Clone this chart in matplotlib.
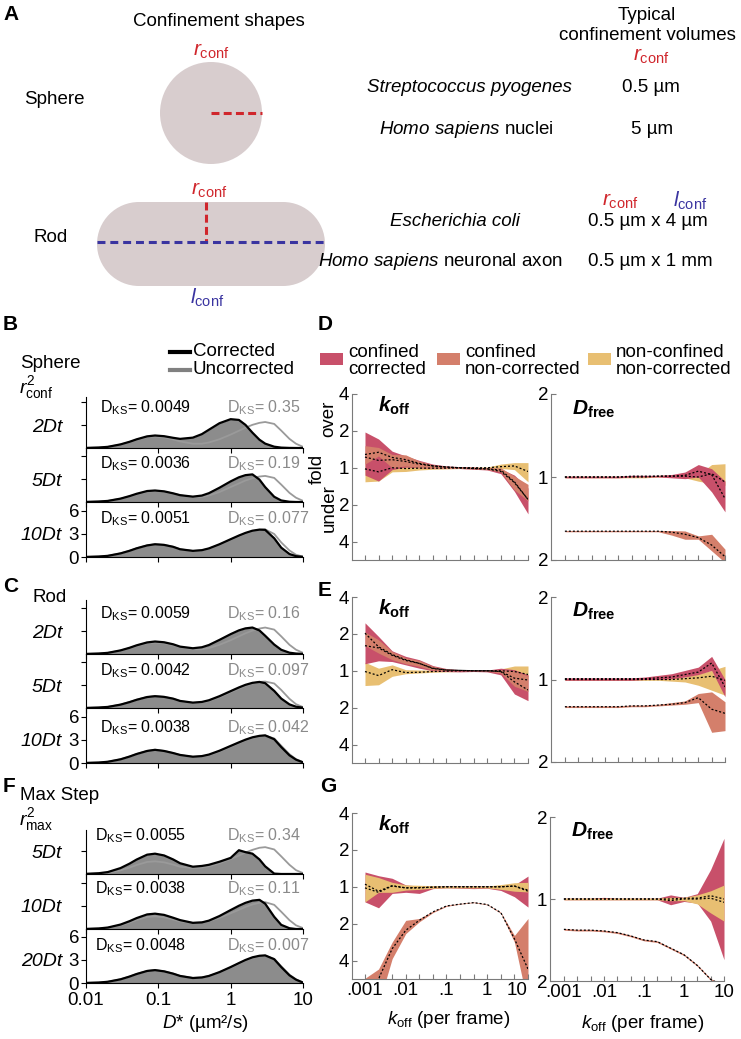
import matplotlib.pyplot as plt
from matplotlib.patches import Circle, Rectangle
from matplotlib.ticker import NullLocator

plt.rcParams["font.family"] = ["Liberation Sans", "DejaVu Sans"]
plt.rcParams["mathtext.fontset"] = "custom"
plt.rcParams["mathtext.rm"] = "Liberation Sans"
plt.rcParams["mathtext.it"] = "Liberation Sans:italic"
plt.rcParams["mathtext.bf"] = "Liberation Sans:bold:italic"
plt.rcParams["mathtext.sf"] = "Liberation Sans:bold"

# -------------------------
# D* distributions (B, C, F)
# -------------------------
d_star = [0.01, 0.015, 0.02, 0.03, 0.04, 0.05, 0.07, 0.09, 0.12, 0.16, 0.2, 0.3, 0.4,
          0.5, 0.7, 1, 1.3, 1.6, 2, 2.5, 3, 4, 5, 6.5, 8, 10]

sph_2dt_cor = [.01, .06, .15, .47, .81, 1.13, 1.52, 1.63, 1.54, 1.33, 1.19, 1.35, 1.81,
               2.38, 3.23, 3.76, 3.66, 3.02, 2.0, 1.08, .57, .17, .05, .01, 0, 0]
sph_2dt_unc = [.01, .06, .14, .44, .77, 1.07, 1.43, 1.5, 1.39, 1.12, .86, .56, .56,
               .72, 1.14, 1.75, 2.25, 2.65, 3.02, 3.28, 3.39, 3.14, 2.27, 1.19, .56, .15]
sph_5dt_cor = [.01, .06, .14, .44, .77, 1.07, 1.43, 1.5, 1.39, 1.13, .89, .70, .84,
               1.15, 1.86, 2.69, 3.22, 3.5, 3.6, 2.92, 1.94, .68, .2, .03, 0, 0]
sph_5dt_unc = [.01, .06, .14, .42, .73, 1.0, 1.35, 1.42, 1.33, 1.1, .88, .62, .66,
               .85, 1.3, 1.95, 2.42, 2.8, 3.1, 3.32, 3.4, 3.14, 2.27, 1.19, .56, .15]
sph_10dt_cor = [.01, .06, .15, .47, .81, 1.13, 1.51, 1.66, 1.58, 1.33, 1.01, .80, .89,
                1.12, 1.66, 2.32, 2.8, 3.14, 3.43, 3.57, 3.54, 2.44, 1.22, .39, .11, .02]
sph_10dt_unc = [.01, .06, .15, .47, .81, 1.13, 1.51, 1.66, 1.58, 1.33, 1.01, .78, .86,
                1.08, 1.6, 2.25, 2.72, 3.06, 3.35, 3.55, 3.6, 3.0, 1.9, .85, .3, .05]

rod_2dt_cor = [.01, .06, .15, .47, .81, 1.13, 1.51, 1.63, 1.53, 1.27, .96, .75, .88,
               1.17, 1.84, 2.59, 3.08, 3.34, 3.45, 3.07, 2.38, 1.23, .55, .17, .06, .01]
rod_2dt_unc = [.01, .06, .14, .44, .77, 1.05, 1.4, 1.5, 1.4, 1.15, .9, .62, .62,
               .78, 1.2, 1.8, 2.3, 2.7, 3.05, 3.32, 3.45, 3.18, 2.3, 1.2, .56, .15]
rod_5dt_cor = [.01, .06, .14, .44, .77, 1.07, 1.43, 1.54, 1.45, 1.22, .92, .70, .79,
               1.01, 1.54, 2.2, 2.68, 3.02, 3.28, 3.4, 3.24, 2.23, 1.23, .47, .17, .04]
rod_5dt_unc = [.01, .06, .14, .44, .77, 1.07, 1.43, 1.54, 1.45, 1.2, .9, .66, .72,
               .92, 1.42, 2.05, 2.52, 2.88, 3.2, 3.4, 3.45, 3.2, 2.35, 1.2, .5, .12]
rod_10dt_cor = [.01, .06, .16, .48, .84, 1.17, 1.57, 1.72, 1.57, 1.30, 1.05, .82, .90,
                1.10, 1.60, 2.23, 2.69, 3.04, 3.35, 3.54, 3.6, 3.1, 2.08, 1.0, .44, .08]
rod_10dt_unc = [.01, .06, .16, .48, .84, 1.17, 1.57, 1.72, 1.57, 1.3, 1.03, .8, .85,
                1.02, 1.5, 2.12, 2.6, 2.96, 3.28, 3.5, 3.58, 3.2, 2.25, 1.15, .5, .12]

max_5dt_cor = [.02, .1, .25, .77, 1.35, 1.88, 2.52, 2.65, 2.42, 1.9, 1.4, .95, 1.05,
               1.2, 1.6, 2.1, 3.1, 2.85, 2.65, 1.9, 1.0, .05, 0, 0, 0, 0]
max_5dt_unc = [.01, .06, .16, .48, .84, 1.17, 1.57, 1.65, 1.52, 1.22, .95, .78, .85,
               1.0, 1.4, 1.95, 2.4, 2.8, 3.15, 3.42, 3.5, 3.2, 2.3, 1.2, .5, .12]
max_10dt_cor = [.01, .07, .19, .58, 1.02, 1.42, 1.9, 2.0, 1.84, 1.47, 1.16, .80, .86,
                1.09, 1.69, 2.47, 3.03, 3.41, 3.7, 3.8, 3.3, 1.59, .54, .1, 0, 0]
max_10dt_unc = [.01, .06, .16, .48, .84, 1.17, 1.57, 1.65, 1.52, 1.24, .98, .8, .86,
                1.02, 1.45, 2.05, 2.5, 2.88, 3.2, 3.42, 3.5, 3.15, 2.25, 1.15, .48, .12]
max_20dt_cor = [.01, .06, .16, .48, .84, 1.17, 1.57, 1.68, 1.52, 1.22, .92, .65, .72,
                .92, 1.42, 2.08, 2.6, 3.0, 3.35, 3.55, 3.6, 3.1, 2.08, 1.0, .44, .05]
max_20dt_unc = [.01, .06, .16, .48, .84, 1.17, 1.57, 1.68, 1.52, 1.22, .92, .66, .72,
                .9, 1.38, 2.02, 2.52, 2.92, 3.28, 3.5, 3.55, 3.15, 2.18, 1.08, .48, .08]

ks_sphere_cor = ["0.0049", "0.0036", "0.0051"]
ks_sphere_unc = ["0.35", "0.19", "0.077"]
ks_rod_cor = ["0.0059", "0.0042", "0.0038"]
ks_rod_unc = ["0.16", "0.097", "0.042"]
ks_max_cor = ["0.0055", "0.0038", "0.0048"]
ks_max_unc = ["0.34", "0.11", "0.007"]

rows_sphere = ["2Dt", "5Dt", "10Dt"]
rows_rod = ["2Dt", "5Dt", "10Dt"]
rows_max = ["5Dt", "10Dt", "20Dt"]

# -------------------------
# fold error data (D, E, G), log2 of fold, over > 0
# -------------------------
koff = [0.001, 0.00215, 0.00464, 0.01, 0.0215, 0.0464, 0.1, 0.215, 0.464, 1, 2.15, 4.64, 10]
koff_labels = [".001", "", "", ".01", "", "", ".1", "", "", "1", "", "", "10"]

d_koff_cc_hi = [.97, .78, .45, .32, .2, .1, .05, .03, .02, .0, -.03, -.2, -.55]
d_koff_cc_lo = [-.2, -.36, -.05, .02, .0, -.02, -.02, -.02, -.04, -.06, -.16, -.64, -1.25]
d_koff_cc_med = [.29, .2, .22, .17, .1, .05, .02, .0, -.02, -.03, -.1, -.4, -.86]
d_koff_cn_hi = [.6, .55, .36, .35, .18, .08, .04, .02, .01, .0, .0, -.23, -.45]
d_koff_cn_lo = [.1, .32, .0, .05, .0, -.02, -.02, -.02, -.03, -.05, -.11, -.6, -.9]
d_koff_cn_med = [.36, .42, .28, .22, .12, .05, .02, .0, -.02, -.03, -.06, -.38, -.86]
d_koff_nc_hi = [.25, .2, .27, .12, .06, .04, .03, .02, .02, .02, .1, .14, .14]
d_koff_nc_lo = [-.38, -.36, -.11, -.1, -.06, -.04, -.03, -.02, -.02, -.02, -.02, -.05, -.38]
d_koff_nc_med = [-.03, -.11, .0, -.02, -.01, -.01, -.01, .0, .0, .0, .03, .05, -.1]

d_dfree_cc_hi = [.01, .01, .01, .01, .01, .02, .02, .02, .03, .06, .15, .1, -.05]
d_dfree_cc_lo = [-.01, -.01, -.01, -.01, -.01, 0, 0, 0, -.01, -.02, .0, -.18, -.42]
d_dfree_cc_med = [0, 0, 0, 0, 0, .01, .01, .01, .01, .02, .07, .03, -.26]
d_dfree_cn_hi = [-.645, -.645, -.645, -.645, -.645, -.645, -.645, -.645, -.645, -.65, -.71, -.69, -.87]
d_dfree_cn_lo = [-.66, -.66, -.66, -.66, -.66, -.66, -.66, -.66, -.70, -.75, -.75, -.89, -1.03]
d_dfree_cn_med = [-.653, -.653, -.653, -.653, -.653, -.653, -.653, -.653, -.665, -.69, -.73, -.82, -.96]
d_dfree_nc_hi = [.01, .01, .01, .01, .01, .01, .01, .02, .02, .02, .03, .15, .16]
d_dfree_nc_lo = [-.01, -.01, -.01, -.01, -.01, -.01, -.01, 0, 0, -.01, -.05, -.08, -.1]
d_dfree_nc_med = [0, 0, 0, 0, 0, 0, 0, .01, .01, .01, 0, .04, -.06]

e_koff_cc_hi = [1.3, .93, .54, .39, .3, .14, .06, .03, .02, .02, .07, .03, -.11]
e_koff_cc_lo = [.19, .27, .25, .16, .07, 0, -.02, -.03, -.02, -.03, -.11, -.63, -.81]
e_koff_cc_med = [.68, .62, .42, .28, .2, .07, .02, .01, .0, .0, -.02, -.3, -.52]
e_koff_cn_hi = [1.05, .84, .52, .35, .28, .12, .05, .02, .01, .01, .03, 0, -.14]
e_koff_cn_lo = [.68, .48, .3, .19, .12, .02, .0, .0, .0, -.01, -.06, -.42, -.56]
e_koff_cn_med = [1.02, .65, .44, .3, .2, .06, .02, .01, .0, .0, -.02, -.2, -.25]
e_koff_nc_hi = [.23, .07, .16, .03, .02, .02, .02, .02, .01, .01, .05, .13, .13]
e_koff_nc_lo = [-.4, -.38, -.15, -.08, -.06, -.04, -.03, -.02, -.02, -.02, -.05, -.08, -.16]
e_koff_nc_med = [-.02, -.13, .03, -.05, -.04, -.02, -.01, 0, 0, 0, 0, -.02, -.1]

e_dfree_cc_hi = [.02, .02, .02, .02, .02, .02, .03, .05, .07, .11, .15, .28, .0]
e_dfree_cc_lo = [-.01, -.01, -.01, -.01, -.01, -.01, 0, 0, .01, .03, .06, .11, -.21]
e_dfree_cc_med = [.01, .01, .01, .01, .01, .01, .01, .02, .03, .06, .09, .2, -.09]
e_dfree_cn_hi = [-.32, -.32, -.32, -.32, -.32, -.31, -.31, -.30, -.28, -.26, -.17, -.15, -.27]
e_dfree_cn_lo = [-.34, -.34, -.34, -.34, -.34, -.33, -.33, -.32, -.31, -.30, -.28, -.64, -.62]
e_dfree_cn_med = [-.33, -.33, -.33, -.33, -.33, -.32, -.32, -.31, -.3, -.28, -.22, -.36, -.41]
e_dfree_nc_hi = [.01, .01, .01, .01, .01, .01, .01, .01, .02, .03, .07, .11, .16]
e_dfree_nc_lo = [-.01, -.01, -.01, -.01, -.01, -.01, -.01, -.01, -.02, -.03, -.07, -.13, -.19]
e_dfree_nc_med = [0, 0, 0, 0, 0, 0, 0, 0, 0, .01, .02, .04, -.01]

g_koff_cc_hi = [.4, .3, .23, .05, .02, .02, .02, .02, .02, .02, .03, .05, .29]
g_koff_cc_lo = [-.41, -.57, -.18, -.15, -.18, -.05, -.03, -.04, -.05, -.04, -.1, -.27, -.55]
g_koff_cc_med = [.07, -.12, .03, -.03, -.03, -.01, 0, 0, 0, 0, 0, .02, -.09]
g_koff_cn_hi = [-2.48, -2.23, -1.5, -.91, -.86, -.66, -.5, -.45, -.41, -.47, -.69, -1.32, -.86]
g_koff_cn_lo = [-3.2, -3.2, -1.95, -1.27, -.95, -.7, -.53, -.47, -.43, -.49, -.72, -1.5, -3.2]
g_koff_cn_med = [-3.0, -2.5, -1.68, -1.18, -.91, -.68, -.52, -.47, -.43, -.48, -.7, -1.41, -2.23]
g_koff_nc_hi = [.34, .25, .12, .05, .04, .03, .02, .02, .02, .02, .06, .11, .12]
g_koff_nc_lo = [-.41, -.15, -.15, -.09, -.07, -.04, -.03, -.03, -.03, -.03, -.07, -.12, -.14]
g_koff_nc_med = [-.03, -.15, .02, -.03, -.02, -.01, 0, 0, 0, 0, .0, .02, -.12]

g_dfree_cc_hi = [.01, .01, .01, .02, .01, .01, .01, .01, .05, .02, .065, .36, .74]
g_dfree_cc_lo = [-.01, -.01, -.01, -.01, -.01, -.01, -.01, -.01, -.07, -.03, -.05, -.27, -.74]
g_dfree_cc_med = [0, 0, 0, 0, 0, 0, 0, 0, -.02, 0, .0, .01, -.04]
g_dfree_cn_hi = [-.36, -.37, -.37, -.38, -.40, -.44, -.49, -.51, -.59, -.67, -.80, -.97, -1.05]
g_dfree_cn_lo = [-.38, -.39, -.39, -.40, -.42, -.46, -.51, -.53, -.61, -.69, -.82, -.99, -1.07]
g_dfree_cn_med = [-.37, -.38, -.38, -.39, -.41, -.45, -.5, -.52, -.6, -.68, -.81, -.98, -1.06]
g_dfree_nc_hi = [.01, .01, .01, .01, .01, .01, .01, .01, .02, .02, .05, .1, .17]
g_dfree_nc_lo = [-.01, -.01, -.01, -.01, -.01, -.01, -.01, -.01, -.02, -.02, -.06, -.17, -.27]
g_dfree_nc_med = [0, 0, 0, 0, 0, 0, 0, 0, 0, .01, .01, .04, .0]

# -------------------------
# Styles
# -------------------------
FS = 13.5
SHAPE = "#d8cdce"
RED = "#d0262c"
BLUE = "#3a34a0"
FILL_GRAY = "#8c8c8c"
UNC_GRAY = "#9a9a9a"
KS_GRAY = "#8a8a8a"
AXIS_GRAY = "#7a7a7a"
BAND_COL = {"cc": "#c8506a", "cn": "#d47f6b", "nc": "#e8bf72"}
PX_PER_UNIT = 7.67

W, H = 741, 1039
fig = plt.figure(figsize=(W / 100, H / 100), dpi=100)


def px_axes(x0, y0, x1, y1):
    ax = fig.add_axes([x0 / W, 1 - y1 / H, (x1 - x0) / W, (y1 - y0) / H])
    ax.patch.set_alpha(0)
    return ax


ov = fig.add_axes([0, 0, 1, 1])
ov.set_xlim(0, W)
ov.set_ylim(H, 0)
ov.axis("off")


def txt(x, y, s, **kw):
    kw.setdefault("fontsize", FS)
    kw.setdefault("ha", "center")
    kw.setdefault("va", "center")
    ov.text(x, y, s, **kw)


# -------------------------
# Panel A
# -------------------------
ov.add_patch(Circle((211, 113), 51, color=SHAPE, lw=0))
# rod = box with two round caps
ov.add_patch(Rectangle((139, 202), 144, 84, color=SHAPE, lw=0))
ov.add_patch(Circle((139, 244), 42, color=SHAPE, lw=0))
ov.add_patch(Circle((283, 244), 42, color=SHAPE, lw=0))
ov.plot([211, 262], [113, 113], color=RED, lw=2.2, dashes=(2.6, 1.4))
ov.plot([206, 206], [202, 242], color=RED, lw=2.2, dashes=(2.6, 1.4))
ov.plot([97, 325], [242, 242], color=BLUE, lw=2.2, dashes=(2.6, 1.6))

for letter, x, y in [("A", 3, 14), ("B", 3, 325), ("C", 3, 587), ("F", 3, 787),
                     ("D", 318, 325), ("E", 318, 590), ("G", 320, 787)]:
    txt(x, y, letter, ha="left", fontsize=15, fontweight="bold")

txt(219, 21, "Confinement shapes")
txt(211, 51, r"$r_{\rm conf}$", color=RED, fontsize=15)
txt(209, 190, r"$r_{\rm conf}$", color=RED, fontsize=15)
txt(207, 298, r"$l_{\rm conf}$", color=BLUE, fontsize=15)
txt(54, 100, "Sphere")
txt(51, 238, "Rod")

txt(647, 15, "Typical")
txt(647, 36, "confinement volumes")
txt(651, 56, r"$r_{\rm conf}$", color=RED, fontsize=15)
txt(469, 87, "Streptococcus pyogenes", style="italic")
txt(651, 87, "0.5 µm")
txt(466, 129, r"$Homo\ sapiens$ nuclei")
txt(652, 129, "5 µm")
txt(620, 201, r"$r_{\rm conf}$", color=RED, fontsize=15)
txt(690, 201, r"$l_{\rm conf}$", color=BLUE, fontsize=15)
txt(455, 221, "Escherichia coli", style="italic")
txt(648, 221, "0.5 µm x 4 µm")
txt(440, 262, r"$Homo\ sapiens$ neuronal axon")
txt(650, 262, "0.5 µm x 1 mm")

# -------------------------
# Panels B, C, F
# -------------------------
ov.plot([170, 190], [352, 352], color="black", lw=3)
ov.plot([170, 190], [370, 370], color="#808080", lw=3)
txt(193, 352, "Corrected", ha="left")
txt(193, 370, "Uncorrected", ha="left")

txt(20, 363, "Sphere", ha="left")
txt(36, 388, r"$r^{2}_{\rm conf}$", fontsize=14)
txt(32, 598, "Rod", ha="left")
txt(20, 796, "Max Step", ha="left")
txt(36, 820, r"$r^{2}_{\rm max}$", fontsize=14)


def kde_group(edges, cors, uncs, ks_c, ks_u, ks_y, ks_x, rows, show_x):
    for i in range(3):
        y0, y1 = edges[i], edges[i + 1]
        top = (y1 - y0) / PX_PER_UNIT
        ax = px_axes(86, y0, 303, y1)
        ax.fill_between(d_star, 0, cors[i], color=FILL_GRAY, lw=0)
        ax.plot(d_star, uncs[i], color=UNC_GRAY, lw=1.3)
        ax.plot(d_star, cors[i], color="black", lw=1.6)
        ax.set_xscale("log")
        ax.set_xlim(0.01, 10)
        ax.set_ylim(0, top)
        for s in ("top", "right"):
            ax.spines[s].set_visible(False)
        ax.set_xticks([0.01, 0.1, 1, 10])
        ax.xaxis.set_minor_locator(NullLocator())
        ax.tick_params(direction="out", length=3.5, labelsize=FS, pad=1.5)
        if i == 2:
            ax.set_yticks([0, 3, 6])
            ax.set_yticklabels(["0", "3", "6"])
        else:
            ax.set_yticks([t for t in (3, 6) if t < top])
            ax.set_yticklabels([])
        if i == 2 and show_x:
            ax.set_xticklabels(["0.01", "0.1", "1", "10"])
            ax.tick_params(axis="x", pad=3)
        else:
            ax.set_xticklabels([])
        txt(62, y1 - 21, rows[i], ha="right", style="italic", fontsize=14)
        txt(ks_x, ks_y[i] + 5, r"D$_{\rm KS}$= " + ks_c[i], ha="left", va="baseline",
            fontsize=11.5)
        txt(227, ks_y[i] + 5, r"D$_{\rm KS}$= " + ks_u[i], ha="left", va="baseline",
            fontsize=11.5, color=KS_GRAY)


kde_group([397, 448, 502, 557], [sph_2dt_cor, sph_5dt_cor, sph_10dt_cor],
          [sph_2dt_unc, sph_5dt_unc, sph_10dt_unc], ks_sphere_cor, ks_sphere_unc,
          [407, 463, 518], 100, rows_sphere, False)
kde_group([600, 654, 708, 763], [rod_2dt_cor, rod_5dt_cor, rod_10dt_cor],
          [rod_2dt_unc, rod_5dt_unc, rod_10dt_unc], ks_rod_cor, ks_rod_unc,
          [613, 670, 727], 100, rows_rod, False)
kde_group([830, 874, 929, 983], [max_5dt_cor, max_10dt_cor, max_20dt_cor],
          [max_5dt_unc, max_10dt_unc, max_20dt_unc], ks_max_cor, ks_max_unc,
          [835, 888, 945], 95, rows_max, True)
txt(205, 1023, r"$D$* (µm²/s)")

# -------------------------
# Panels D, E, G
# -------------------------
for (x0, label), col in zip([(320, "confined\ncorrected"), (437, "confined\nnon-corrected"),
                             (588, "non-confined\nnon-corrected")],
                            [BAND_COL["cc"], BAND_COL["cn"], BAND_COL["nc"]]):
    ov.add_patch(Rectangle((x0, 353), 23, 12, color=col, lw=0))
    txt(x0 + 28, 361, label, ha="left", linespacing=1.05)

txt(317, 469, "fold", rotation=90)
txt(329, 419, "over", rotation=90)
txt(329, 508, "under", rotation=90)


def fold_panel(box, kind, bands, order, xlabels):
    ax = px_axes(*box)
    for key in order:
        lo, hi, med = bands[key]
        ax.fill_between(koff, lo, hi, color=BAND_COL[key], lw=0)
    for key in order:
        ax.plot(koff, bands[key][2], color="black", lw=0.9, ls=(0, (1.6, 1.6)))
    ax.set_xscale("log")
    if kind == "koff":
        ax.set_xlim(0.00048, 10)
        ax.set_ylim(-2.5, 2)
        ax.set_yticks([2, 1, 0, -1, -2])
        ax.set_yticklabels(["4", "2", "1", "2", "4"])
        ax.text(0.15, 0.93, r"$\mathbf{k}_{\mathsf{off}}$", transform=ax.transAxes,
                fontsize=15, va="center")
    else:
        ax.set_xlim(0.00045, 10)
        ax.set_ylim(-1, 1)
        ax.set_yticks([1, 0, -1])
        ax.set_yticklabels(["2", "1", "2"])
        ax.text(0.12, 0.91, r"$\mathbf{D}_{\mathsf{free}}$", transform=ax.transAxes,
                fontsize=15, va="center")
    ax.set_xticks(koff)
    ax.xaxis.set_minor_locator(NullLocator())
    ax.set_xticklabels(xlabels if xlabels else [""] * len(koff))
    for s in ("top", "right"):
        ax.spines[s].set_visible(False)
    for s in ("left", "bottom"):
        ax.spines[s].set_color(AXIS_GRAY)
    ax.tick_params(direction="in", length=3.5, color=AXIS_GRAY, labelsize=FS, pad=2)
    return ax


d_koff = {"cc": (d_koff_cc_lo, d_koff_cc_hi, d_koff_cc_med),
          "cn": (d_koff_cn_lo, d_koff_cn_hi, d_koff_cn_med),
          "nc": (d_koff_nc_lo, d_koff_nc_hi, d_koff_nc_med)}
d_dfree = {"cc": (d_dfree_cc_lo, d_dfree_cc_hi, d_dfree_cc_med),
           "cn": (d_dfree_cn_lo, d_dfree_cn_hi, d_dfree_cn_med),
           "nc": (d_dfree_nc_lo, d_dfree_nc_hi, d_dfree_nc_med)}
e_koff = {"cc": (e_koff_cc_lo, e_koff_cc_hi, e_koff_cc_med),
          "cn": (e_koff_cn_lo, e_koff_cn_hi, e_koff_cn_med),
          "nc": (e_koff_nc_lo, e_koff_nc_hi, e_koff_nc_med)}
e_dfree = {"cc": (e_dfree_cc_lo, e_dfree_cc_hi, e_dfree_cc_med),
           "cn": (e_dfree_cn_lo, e_dfree_cn_hi, e_dfree_cn_med),
           "nc": (e_dfree_nc_lo, e_dfree_nc_hi, e_dfree_nc_med)}
g_koff = {"cc": (g_koff_cc_lo, g_koff_cc_hi, g_koff_cc_med),
          "cn": (g_koff_cn_lo, g_koff_cn_hi, g_koff_cn_med),
          "nc": (g_koff_nc_lo, g_koff_nc_hi, g_koff_nc_med)}
g_dfree = {"cc": (g_dfree_cc_lo, g_dfree_cc_hi, g_dfree_cc_med),
           "cn": (g_dfree_cn_lo, g_dfree_cn_hi, g_dfree_cn_med),
           "nc": (g_dfree_nc_lo, g_dfree_nc_hi, g_dfree_nc_med)}

fold_panel((352, 394, 528, 560), "koff", d_koff, ["nc", "cc", "cn"], None)
fold_panel((551, 394, 725, 560), "dfree", d_dfree, ["nc", "cc", "cn"], None)
fold_panel((352, 597, 528, 763), "koff", e_koff, ["nc", "cc", "cn"], None)
fold_panel((551, 597, 725, 762), "dfree", e_dfree, ["nc", "cc", "cn"], None)
axg = fold_panel((352, 813, 528, 979), "koff", g_koff, ["cc", "nc", "cn"], koff_labels)
axg.get_xticklabels()[-1].set_ha("right")
fold_panel((550, 817, 724, 981), "dfree", g_dfree, ["cc", "nc", "cn"], koff_labels)
txt(449, 1019, r"$k_{\rm off}$ (per frame)")
txt(643, 1023, r"$k_{\rm off}$ (per frame)")

fig.savefig("out.png", dpi=100)
